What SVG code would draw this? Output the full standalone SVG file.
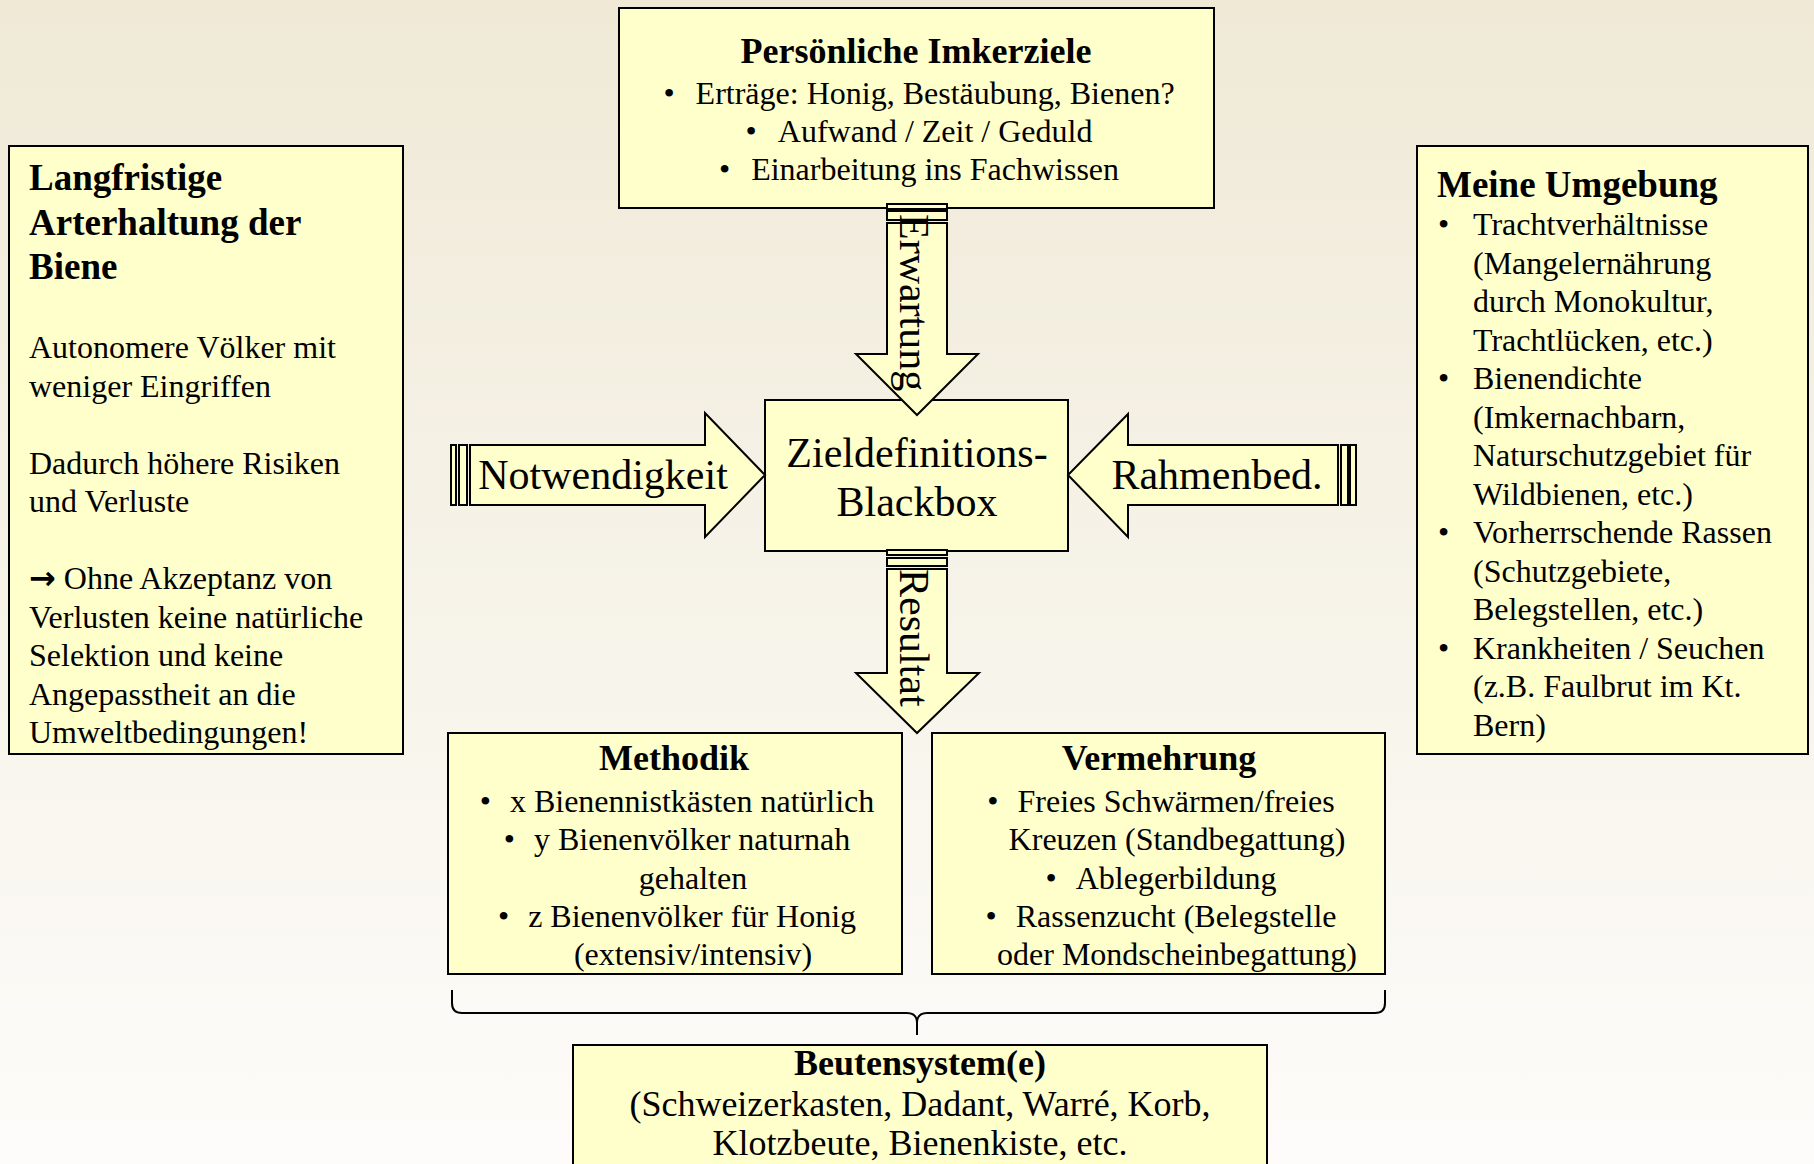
<svg xmlns="http://www.w3.org/2000/svg" width="1814" height="1164" viewBox="0 0 1814 1164">
<defs>
<linearGradient id="bg" x1="0" y1="0" x2="0" y2="1">
<stop offset="0" stop-color="#EFE9D6"/>
<stop offset="1" stop-color="#FDFCFA"/>
</linearGradient>
<style>
.box{fill:#FFFFCC;stroke:#000;stroke-width:2}
.arr{fill:#FFFFCC;stroke:#000;stroke-width:2;stroke-linejoin:miter}
text{font-family:"Liberation Serif","Times New Roman",serif;fill:#000}
.b32{font-size:32px}
.t36{font-size:36px;font-weight:bold}
.t37{font-size:37px;font-weight:bold}
.r36{font-size:36px}
.big{font-size:42px}
.mid{text-anchor:middle}
.brace{fill:none;stroke:#000;stroke-width:2}
</style>
</defs>
<rect x="0" y="0" width="1814" height="1164" fill="url(#bg)"/>

<g id="node-imkerziele">
<rect class="box" x="619" y="8" width="595" height="200"/>
<text class="t36 mid" x="916" y="63">Persönliche Imkerziele</text>
<text class="b32 mid" x="919" y="104">•<tspan dx="21">Erträge: Honig, Bestäubung, Bienen?</tspan></text>
<text class="b32 mid" x="919" y="142">•<tspan dx="21">Aufwand / Zeit / Geduld</tspan></text>
<text class="b32 mid" x="919" y="180">•<tspan dx="21">Einarbeitung ins Fachwissen</tspan></text>
</g>

<g id="node-arterhaltung">
<rect class="box" x="9" y="146" width="394" height="608"/>
<text class="t37" x="29" y="190">Langfristige</text>
<text class="t37" x="29" y="235">Arterhaltung der</text>
<text class="t37" x="29" y="279">Biene</text>
<text class="b32" x="29" y="358">Autonomere Völker mit</text>
<text class="b32" x="29" y="396.5">weniger Eingriffen</text>
<text class="b32" x="29" y="473.5">Dadurch höhere Risiken</text>
<text class="b32" x="29" y="512">und Verluste</text>
<text class="b32" x="29" y="589"><tspan font-family="'DejaVu Sans',sans-serif" font-size="32" font-weight="bold">→</tspan> Ohne Akzeptanz von</text>
<text class="b32" x="29" y="627.5">Verlusten keine natürliche</text>
<text class="b32" x="29" y="666">Selektion und keine</text>
<text class="b32" x="29" y="704.5">Angepasstheit an die</text>
<text class="b32" x="29" y="743">Umweltbedingungen!</text>
</g>

<g id="node-umgebung">
<rect class="box" x="1417" y="146" width="391" height="608"/>
<text class="t37" x="1437" y="197">Meine Umgebung</text>
<text class="b32" x="1438" y="235">•</text>
<text class="b32" x="1473" y="235">Trachtverhältnisse</text>
<text class="b32" x="1473" y="273.5">(Mangelernährung</text>
<text class="b32" x="1473" y="312">durch Monokultur,</text>
<text class="b32" x="1473" y="350.5">Trachtlücken, etc.)</text>
<text class="b32" x="1438" y="389">•</text>
<text class="b32" x="1473" y="389">Bienendichte</text>
<text class="b32" x="1473" y="427.5">(Imkernachbarn,</text>
<text class="b32" x="1473" y="466">Naturschutzgebiet für</text>
<text class="b32" x="1473" y="504.5">Wildbienen, etc.)</text>
<text class="b32" x="1438" y="543">•</text>
<text class="b32" x="1473" y="543">Vorherrschende Rassen</text>
<text class="b32" x="1473" y="581.5">(Schutzgebiete,</text>
<text class="b32" x="1473" y="620">Belegstellen, etc.)</text>
<text class="b32" x="1438" y="658.5">•</text>
<text class="b32" x="1473" y="658.5">Krankheiten / Seuchen</text>
<text class="b32" x="1473" y="697">(z.B. Faulbrut im Kt.</text>
<text class="b32" x="1473" y="735.5">Bern)</text>
</g>

<g id="node-blackbox">
<rect class="box" x="765" y="400" width="303" height="151"/>
<text class="big mid" x="917" y="467">Zieldefinitions-</text>
<text class="big mid" x="917" y="516">Blackbox</text>
</g>

<g id="node-methodik">
<rect class="box" x="448" y="733" width="454" height="241"/>
<text class="t36 mid" x="674" y="770">Methodik</text>
<text class="b32 mid" x="677" y="812">•<tspan dx="19">x Bienennistkästen natürlich</tspan></text>
<text class="b32 mid" x="677" y="850">•<tspan dx="19">y Bienenvölker naturnah</tspan></text>
<text class="b32 mid" x="693" y="888.5">gehalten</text>
<text class="b32 mid" x="677" y="927">•<tspan dx="19">z Bienenvölker für Honig</tspan></text>
<text class="b32 mid" x="693" y="965">(extensiv/intensiv)</text>
</g>

<g id="node-vermehrung">
<rect class="box" x="932" y="733" width="453" height="241"/>
<text class="t36 mid" x="1159" y="770">Vermehrung</text>
<text class="b32 mid" x="1161" y="812">•<tspan dx="19">Freies Schwärmen/freies</tspan></text>
<text class="b32 mid" x="1177" y="850">Kreuzen (Standbegattung)</text>
<text class="b32 mid" x="1161" y="888.5">•<tspan dx="19">Ablegerbildung</tspan></text>
<text class="b32 mid" x="1161" y="927">•<tspan dx="19">Rassenzucht (Belegstelle</tspan></text>
<text class="b32 mid" x="1177" y="965">oder Mondscheinbegattung)</text>
</g>

<g id="node-beutensystem">
<rect class="box" x="573" y="1045" width="694" height="160"/>
<text class="t36 mid" x="920" y="1075">Beutensystem(e)</text>
<text class="r36 mid" x="920" y="1116">(Schweizerkasten, Dadant, Warré, Korb,</text>
<text class="r36 mid" x="920" y="1155">Klotzbeute, Bienenkiste, etc.</text>
</g>

<g id="connectors">
<g id="arrow-erwartung">
<rect class="arr" x="887" y="204" width="60" height="5"/>
<rect class="arr" x="887" y="211" width="60" height="9"/>
<polygon class="arr" points="887,223 947,223 947,354 978,354 917,415 856,354 887,354"/>
<text class="big" transform="translate(900,214) rotate(90)">Erwartung</text>
</g>
<g id="arrow-notwendigkeit">
<rect class="arr" x="451" y="445" width="5" height="60"/>
<rect class="arr" x="459" y="445" width="8" height="60"/>
<polygon class="arr" points="470,445 705,445 705,413 765,475 705,537 705,505 470,505"/>
<text class="big mid" x="603" y="489">Notwendigkeit</text>
</g>
<g id="arrow-rahmenbed">
<rect class="arr" x="1350" y="445" width="6" height="60"/>
<rect class="arr" x="1341" y="445" width="7" height="60"/>
<polygon class="arr" points="1338,445 1128,445 1128,414 1068,475 1128,537 1128,505 1338,505"/>
<text class="big mid" x="1217" y="489">Rahmenbed.</text>
</g>
<g id="arrow-resultat">
<rect class="arr" x="887" y="550" width="60" height="5"/>
<rect class="arr" x="887" y="558" width="60" height="8"/>
<polygon class="arr" points="887,569 947,569 947,673 979,673 917,733 856,673 887,673"/>
<text class="big" transform="translate(900,569) rotate(90)">Resultat</text>
</g>
<path id="brace" class="brace" d="M452,990 L452,1003 Q452,1013 462,1013 L907,1013 Q917,1013 917,1023 L917,1035 M917,1023 Q917,1013 927,1013 L1375,1013 Q1385,1013 1385,1003 L1385,990"/>
</g>
</svg>
